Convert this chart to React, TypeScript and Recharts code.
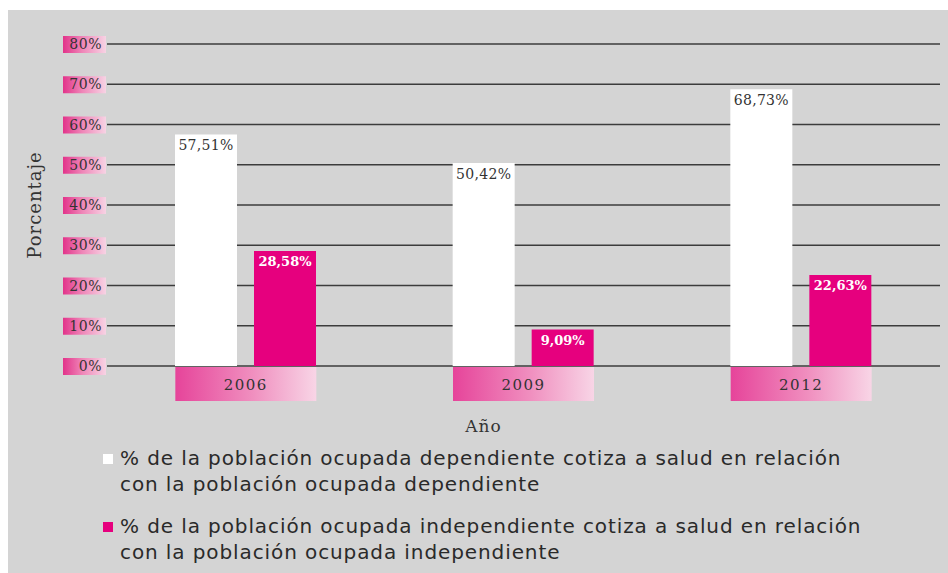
import { BarChart, Bar, XAxis, YAxis, CartesianGrid, LabelList } from "recharts";

const YEARS = ["2006", "2009", "2012"];
const DEPENDIENTE = [57.51, 50.42, 68.73];
const INDEPENDIENTE = [28.58, 9.09, 22.63];
const Y_TICKS = [0, 10, 20, 30, 40, 50, 60, 70, 80];
const LEGEND = [
  {
    color: "#ffffff",
    lines: [
      "% de la población ocupada dependiente cotiza a salud en relación",
      "con la población ocupada dependiente",
    ],
  },
  {
    color: "#e6007e",
    lines: [
      "% de la población ocupada independiente cotiza a salud en relación",
      "con la población ocupada independiente",
    ],
  },
];

const data = YEARS.map((year, i) => ({
  year,
  dep: DEPENDIENTE[i],
  ind: INDEPENDIENTE[i],
}));

const PINK = "#e6007e";
const SERIF = "'DejaVu Serif', serif";
const BAR = 62;
const GAP = 17;

const fmt = (v: number) => v.toFixed(2).replace(".", ",") + "%";

function YTick({ x, y, payload, index }: any) {
  const id = `ytg${index}`;
  return (
    <g>
      <defs>
        <linearGradient id={id} x1="0" y1="0" x2="1" y2="0">
          <stop offset="0" stopColor="#e2338a" />
          <stop offset="0.45" stopColor="#ef86b8" />
          <stop offset="1" stopColor="#f7d3e4" />
        </linearGradient>
      </defs>
      <rect x={x - 44} y={y - 8} width={43} height={17} fill={`url(#${id})`} />
      <text
        x={x - 5}
        y={y}
        dy="0.36em"
        textAnchor="end"
        fontFamily={SERIF}
        fontSize={14}
        letterSpacing={0.5}
        fill="#333"
      >
        {payload.value}%
      </text>
    </g>
  );
}

function XTick({ x, y, payload, index }: any) {
  const id = `xtg${index}`;
  const w = BAR * 2 + GAP;
  return (
    <g>
      <defs>
        <linearGradient id={id} x1="0" y1="0" x2="1" y2="0">
          <stop offset="0" stopColor="#e6449a" />
          <stop offset="0.55" stopColor="#f08fbf" />
          <stop offset="1" stopColor="#f8d5e6" />
        </linearGradient>
      </defs>
      <rect x={x - w / 2} y={y + 1} width={w} height={34} fill={`url(#${id})`} />
      <text
        x={x}
        y={y + 19}
        dy="0.36em"
        textAnchor="middle"
        fontFamily={SERIF}
        fontSize={15}
        letterSpacing={1.5}
        fill="#333"
      >
        {payload.value}
      </text>
    </g>
  );
}

export default function App() {
  return (
    <div
      style={{
        position: "absolute",
        left: 0,
        top: 0,
        width: 948,
        height: 573,
        background: "#ffffff",
      }}
    >
      <div
        style={{
          position: "absolute",
          left: 8,
          top: 10,
          width: 940,
          height: 563,
          background: "#d4d4d4",
        }}
      />
      <div style={{ position: "absolute", left: 0, top: 0 }}>
        <BarChart
          width={948}
          height={436}
          data={data}
          margin={{ top: 44, right: 8, left: 0, bottom: 0 }}
          barGap={GAP}
        >
          <CartesianGrid vertical={false} stroke="#3c3c3c" strokeWidth={1.5} />
          <XAxis
            dataKey="year"
            height={70}
            axisLine={false}
            tickLine={false}
            tickSize={0}
            tickMargin={0}
            tick={<XTick />}
            label={{
              value: "Año",
              position: "insideBottom",
              offset: 4,
              dx: -40,
              fontFamily: SERIF,
              fontSize: 17,
              letterSpacing: 1,
              fill: "#333",
            }}
          />
          <YAxis
            width={107}
            domain={[0, 80]}
            ticks={Y_TICKS}
            interval={0}
            axisLine={false}
            tickLine={false}
            tickSize={0}
            tickMargin={0}
            tick={<YTick />}
            label={{
              content: ({ viewBox }: any) => {
                const cx = viewBox.x + 35;
                const cy = viewBox.y + viewBox.height / 2;
                return (
                  <text
                    x={cx}
                    y={cy}
                    transform={`rotate(-90, ${cx}, ${cy})`}
                    textAnchor="middle"
                    dy="0.36em"
                    fontFamily={SERIF}
                    fontSize={18}
                    letterSpacing={1}
                    fill="#333"
                  >
                    Porcentaje
                  </text>
                );
              },
            }}
          />
          <Bar dataKey="dep" fill="#ffffff" barSize={BAR} isAnimationActive={false}>
            <LabelList
              dataKey="dep"
              position="insideTop"
              offset={6}
              formatter={(v: any) => fmt(v)}
              fontFamily={SERIF}
              fontSize={14}
              letterSpacing={0.3}
              fill="#333"
            />
          </Bar>
          <Bar dataKey="ind" fill={PINK} barSize={BAR} isAnimationActive={false}>
            <LabelList
              dataKey="ind"
              position="insideTop"
              offset={6}
              formatter={(v: any) => fmt(v)}
              fontFamily={SERIF}
              fontSize={13}
              fontWeight="bold"
              fill="#ffffff"
            />
          </Bar>
        </BarChart>
      </div>
      {LEGEND.map((item, i) => (
        <div
          key={i}
          style={{
            position: "absolute",
            left: 103,
            top: 445 + i * 68,
            display: "flex",
            alignItems: "flex-start",
            fontFamily: "'DejaVu Sans', sans-serif",
            fontSize: 20,
            letterSpacing: 0.9,
            lineHeight: "26px",
            color: "#2a2a2a",
          }}
        >
          <div
            style={{
              width: 10,
              height: 10,
              marginTop: 9,
              marginRight: 7,
              background: item.color,
              flexShrink: 0,
            }}
          />
          <div>
            {item.lines.map((l, j) => (
              <div key={j} style={{ whiteSpace: "nowrap" }}>
                {l}
              </div>
            ))}
          </div>
        </div>
      ))}
    </div>
  );
}
